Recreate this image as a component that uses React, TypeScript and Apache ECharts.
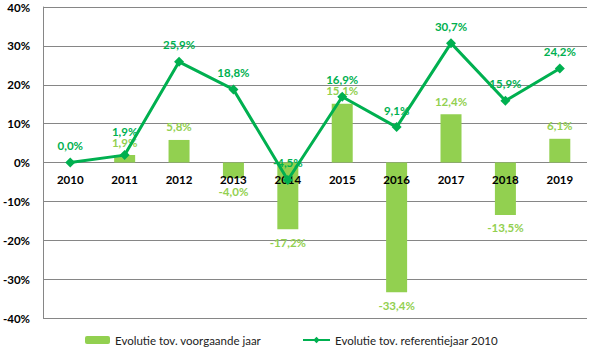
import React, { useEffect, useRef } from "react";
import * as echarts from "echarts";

const categories = ["2010", "2011", "2012", "2013", "2014", "2015", "2016", "2017", "2018", "2019"];
const barValues: (number | null)[] = [null, 1.9, 5.8, -4.0, -17.2, 15.1, -33.4, 12.4, -13.5, 6.1];
const lineValues: number[] = [0.0, 1.9, 25.9, 18.8, -4.5, 16.9, 9.1, 30.7, 15.9, 24.2];
const barName = "Evolutie tov. voorgaande jaar";
const lineName = "Evolutie tov. referentiejaar 2010";

const BAR_COLOR = "#92D050";
const LINE_COLOR = "#00B050";
const FONT = "Lato";

const fmt = (v: number) => v.toFixed(1).replace(".", ",") + "%";

const GRID_TOP = 7;
const GRID_BOTTOM = 36;
const CHART_H = 354;

export default function App() {
  const ref = useRef<HTMLDivElement>(null);
  useEffect(() => {
    if (!ref.current) return;
    const chart = echarts.init(ref.current, undefined, { renderer: "svg" });
    const barData = barValues.map((v) =>
      v === null
        ? null
        : {
            value: v,
            label: { position: v >= 0 ? "top" : "bottom" },
          }
    );
    const lineData = lineValues.map((v, i) => ({
      value: v,
      label: { distance: i === 1 ? 13 : 6 },
    }));
    const gridH = CHART_H - GRID_TOP - GRID_BOTTOM;
    chart.setOption({
      animation: false,
      textStyle: { fontFamily: FONT },
      grid: { left: 43, right: 6, top: GRID_TOP, bottom: GRID_BOTTOM, containLabel: false },
      legend: [
        {
          data: [barName],
          left: 80,
          bottom: 3,
          itemWidth: 25,
          itemHeight: 8,
          itemGap: 5,
          textStyle: { fontFamily: FONT, fontSize: 11.5, color: "#222" },
        },
        {
          data: [lineName],
          left: 297,
          bottom: 3,
          itemWidth: 27,
          itemHeight: 8,
          textStyle: { fontFamily: FONT, fontSize: 11.5, color: "#222" },
        },
      ],
      xAxis: {
        type: "category",
        data: categories,
        offset: -gridH / 2,
        z: 10,
        axisLine: { show: false, onZero: false },
        axisTick: { show: false },
        axisLabel: {
          margin: 11,
          fontFamily: FONT,
          fontWeight: "bold",
          fontSize: 11.5,
          color: "#000",
        },
      },
      yAxis: {
        type: "value",
        min: -40,
        max: 40,
        interval: 10,
        axisLine: { show: true, lineStyle: { color: "#868686", width: 1 } },
        axisTick: { show: false },
        splitLine: { lineStyle: { color: "#868686", width: 1 } },
        axisLabel: {
          margin: 13,
          formatter: "{value}%",
          fontFamily: FONT,
          fontWeight: "bold",
          fontSize: 11.5,
          color: "#000",
        },
      },
      series: [
        {
          name: barName,
          type: "bar",
          data: barData,
          barWidth: 21,
          itemStyle: { color: BAR_COLOR },
          label: {
            show: true,
            distance: 7,
            color: BAR_COLOR,
            fontFamily: FONT,
            fontWeight: "bold",
            fontSize: 11.5,
            formatter: (p: any) => fmt(p.value),
          },
          z: 2,
        },
        {
          name: lineName,
          type: "line",
          data: lineData,
          symbol: "diamond",
          symbolSize: 10,
          lineStyle: { color: LINE_COLOR, width: 3 },
          itemStyle: { color: LINE_COLOR },
          label: {
            show: true,
            position: "top",
            color: LINE_COLOR,
            fontFamily: FONT,
            fontWeight: "bold",
            fontSize: 11.5,
            formatter: (p: any) => fmt(p.value),
          },
          z: 11,
        },
      ],
    });
    return () => chart.dispose();
  }, []);
  return (
    <div
      ref={ref}
      style={{ position: "fixed", left: 0, top: 0, width: 593, height: 354, background: "#fff" }}
    />
  );
}
